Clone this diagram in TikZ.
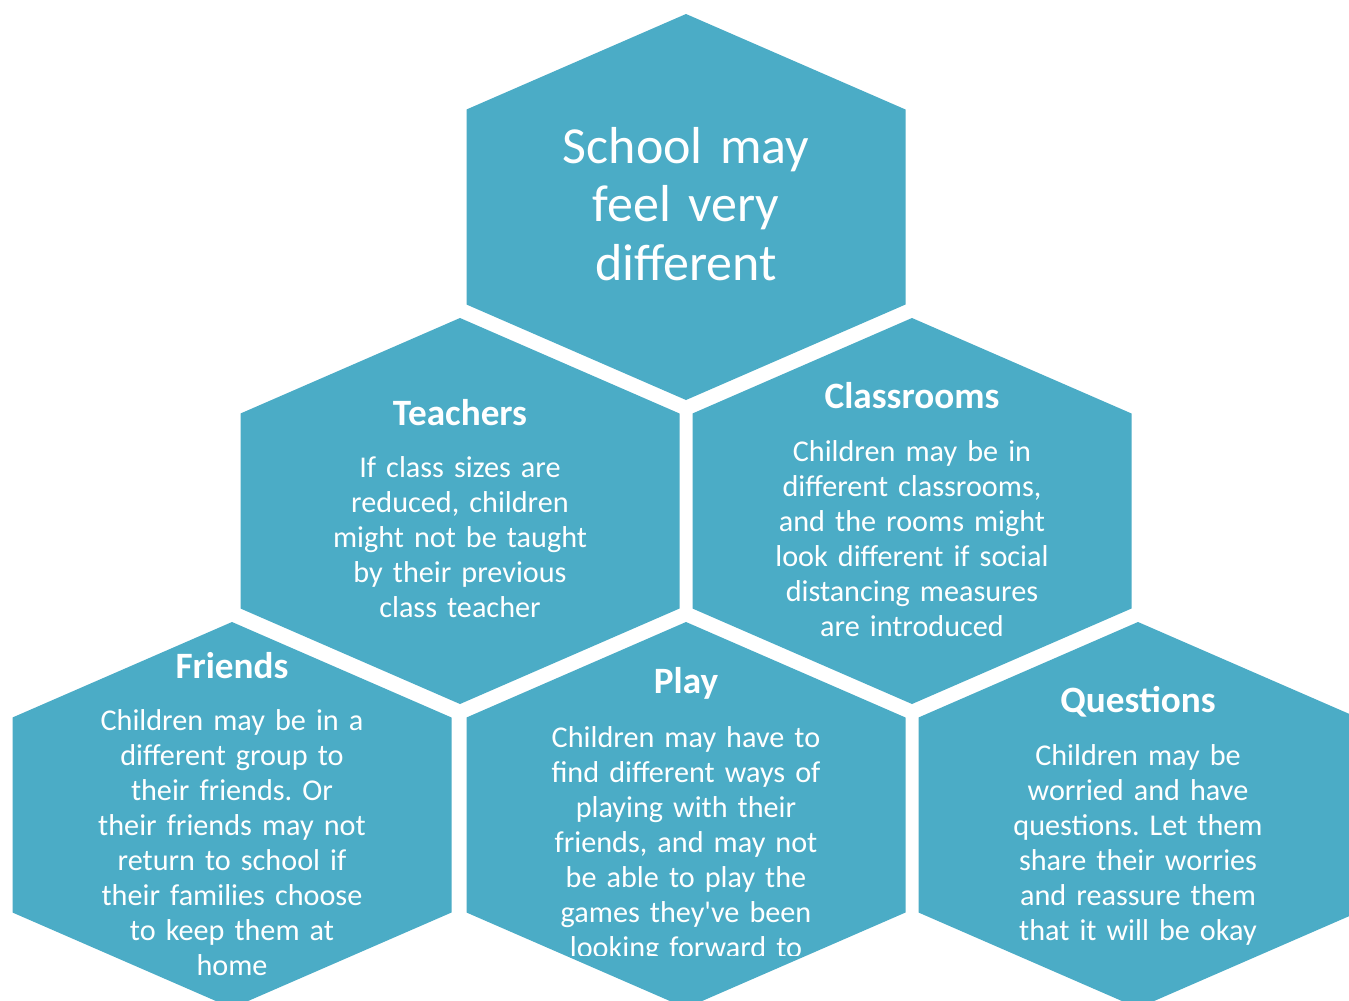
\documentclass[tikz,border=0pt]{standalone}
\usepackage{fontspec}
\setmainfont{Carlito}
\usepackage{tikz}
\usetikzlibrary{positioning}
\definecolor{hexteal}{HTML}{4BACC6}
\frenchspacing

\begin{document}
\begin{tikzpicture}[
  x=0.5pt, y=-0.5pt,
  hexcell/.style={fill=hexteal},
  title/.style={anchor=base, text=white, text width=215pt, align=center,
                inner sep=0pt, font=\fontsize{26}{29.25}\selectfont},
  head/.style={anchor=base, text=white, inner sep=0pt,
               font=\fontsize{18.6}{20}\selectfont\bfseries},
  body/.style={anchor=base, text=white, text width=215pt, align=center,
               inner sep=0pt, font=\fontsize{15.1}{17.5}\selectfont},
]
  \path[use as bounding box, fill=white] (0,0) rectangle (1349,1001);
  \clip (0,0) rectangle (1349,1001);

  % honeycomb, one cell per topic
  \foreach \cx/\cy in {686/207, 460/511, 912/511, 232/815, 686/815, 1138/815}
    \fill[hexcell, shift={(\cx,\cy)}]
      (0,-193) -- (219.5,-97.5) -- (219.5,97.5) -- (0,193)
      -- (-219.5,97.5) -- (-219.5,-97.5) -- cycle;

  \node[title] (school) at (686,163) {School may\\feel very\\different};

  \node[head] (teachers) at (460,425) {Teachers};
  \node[body] (teachers text) at (460,477)
    {If class sizes are\\reduced, children\\might not be taught\\by their previous\\class teacher};

  \node[head] (classrooms) at (912,408) {Classrooms};
  \node[body] (classrooms text) at (912,461)
    {Children may be in\\different classrooms,\\and the rooms might\\look different if social\\distancing measures\\are introduced};

  \node[head] (friends) at (232,678) {Friends};
  \node[body] (friends text) at (232,730)
    {Children may be in a\\different group to\\their friends. Or\\their friends may not\\return to school if\\their families choose\\to keep them at\\home};

  \node[head] (play) at (686,693) {Play};
  \begin{scope}
    % last line runs past the text box
    \clip (466,0) rectangle (905,955);
    \node[body] (play text) at (686,747)
      {Children may have to\\find different ways of\\playing with their\\friends, and may not\\be able to play the\\games they\textquotesingle ve been\\looking forward to};
  \end{scope}

  \node[head] (questions) at (1138,712) {Questions};
  \node[body] (questions text) at (1138,765)
    {Children may be\\worried and have\\questions. Let them\\share their worries\\and reassure them\\that it will be okay};
\end{tikzpicture}
\end{document}
